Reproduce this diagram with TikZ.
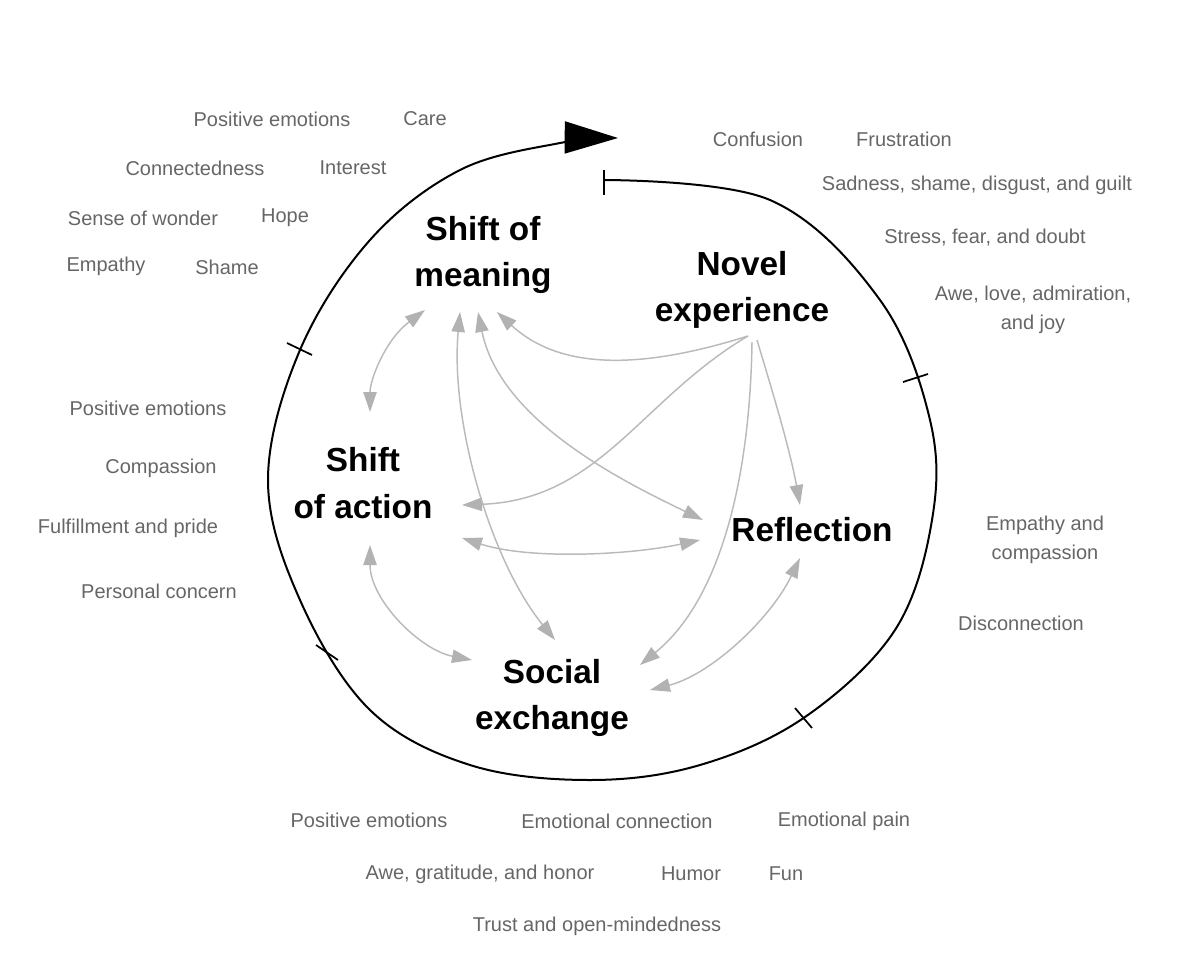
\documentclass[tikz,border=0pt]{standalone}
\usepackage{fontspec}
\setmainfont{Liberation Sans}
\usetikzlibrary{arrows.meta}
\begin{document}
\begin{tikzpicture}[x=0.75pt,y=-0.75pt,
  emo/.style={text=black!60,font=\fontsize{15}{21.5}\selectfont,align=center,inner sep=0},
  big/.style={font=\fontsize{25}{35}\selectfont\bfseries,align=center,inner sep=0},
  con/.style={draw=black!27,line width=1.1pt},
  hd/.style={-{Triangle[length=15pt,width=10pt,fill=black!30,color=black!30]}},
  dh/.style={{Triangle[length=15pt,width=10pt,fill=black!30,color=black!30]}-{Triangle[length=15pt,width=10pt,fill=black!30,color=black!30]}},
  tick/.style={line width=1.3pt}]
\useasboundingbox (0,0) rectangle (1200,960);
% spiral
\draw[line width=1.5pt,-{Triangle[length=40pt,width=24pt]}] plot[smooth,tension=0.6] coordinates{(604,180)(770,200)(880,300)(930,420)(932,520)(895,630)(805,717)(700,765)(590,780)(470,765)(370,710)(300,600)(268,480)(300,350)(370,240)(460,170)(560,143)(618,138)};
\draw[tick] (604,170)--(604,195);
\draw[tick] (903,382)--(928,374);
\draw[tick] (795,708)--(812,728);
\draw[tick] (316,645)--(338,660);
\draw[tick] (287,343)--(312,355);
% main nodes
\node[big] (M) at (483,255) {Shift of\\meaning};
\node[big] (N) at (742,290) {Novel\\experience};
\node[big] (A) at (363,483) {Shift\\of action};
\node[big] (R) at (812,530) {Reflection};
\node[big] (S) at (552,698) {Social\\exchange};
\coordinate (Nm) at (748,336);
\coordinate (Ma) at (497,312); \coordinate (Mb) at (478,312);
\coordinate (Mc) at (460,312); \coordinate (Md) at (425,310);
% connectors
\draw[con,hd] (Nm) .. controls (640,370) and (560,370) .. (Ma);
\draw[con,hd] (Nm) .. controls (640,400) and (600,500) .. (462,505);
\draw[con,hd] (757,340) .. controls (775,400) and (790,450) .. (800,505);
\draw[con,hd] (752,342) .. controls (750,480) and (720,600) .. (640,665);
\draw[con,dh] (Mb) .. controls (500,420) and (620,480) .. (703,520);
\draw[con,dh] (Mc) .. controls (450,420) and (490,560) .. (555,640);
\draw[con,dh] (Md) .. controls (385,340) and (370,380) .. (370,412);
\draw[con,dh] (462,538) .. controls (530,560) and (630,555) .. (700,540);
\draw[con,dh] (370,545) .. controls (370,600) and (420,650) .. (472,660);
\draw[con,dh] (800,558) .. controls (770,620) and (710,675) .. (650,690);
% emotions
\node[emo] at (272,119) {Positive emotions};
\node[emo] at (425,119) {Care};
\node[emo] at (195,168) {Connectedness};
\node[emo] at (353,168) {Interest};
\node[emo] at (143,218) {Sense of wonder};
\node[emo] at (285,218) {Hope};
\node[emo] at (106,266) {Empathy};
\node[emo] at (227,267) {Shame};
\node[emo] at (758,139) {Confusion};
\node[emo] at (904,139) {Frustration};
\node[emo] at (977,185) {Sadness, shame, disgust, and guilt};
\node[emo] at (985,238) {Stress, fear, and doubt};
\node[emo] at (1033,310) {Awe, love, admiration,\\and joy};
\node[emo] at (148,408) {Positive emotions};
\node[emo] at (161,468) {Compassion};
\node[emo] at (128,528) {Fulfillment and pride};
\node[emo] at (159,591) {Personal concern};
\node[emo] at (1045,540) {Empathy and\\compassion};
\node[emo] at (1021,623) {Disconnection};
\node[emo] at (369,820) {Positive emotions};
\node[emo] at (617,821) {Emotional connection};
\node[emo] at (844,821) {Emotional pain};
\node[emo] at (480,874) {Awe, gratitude, and honor};
\node[emo] at (691,874) {Humor};
\node[emo] at (786,874) {Fun};
\node[emo] at (597,926) {Trust and open-mindedness};
\end{tikzpicture}
\end{document}
